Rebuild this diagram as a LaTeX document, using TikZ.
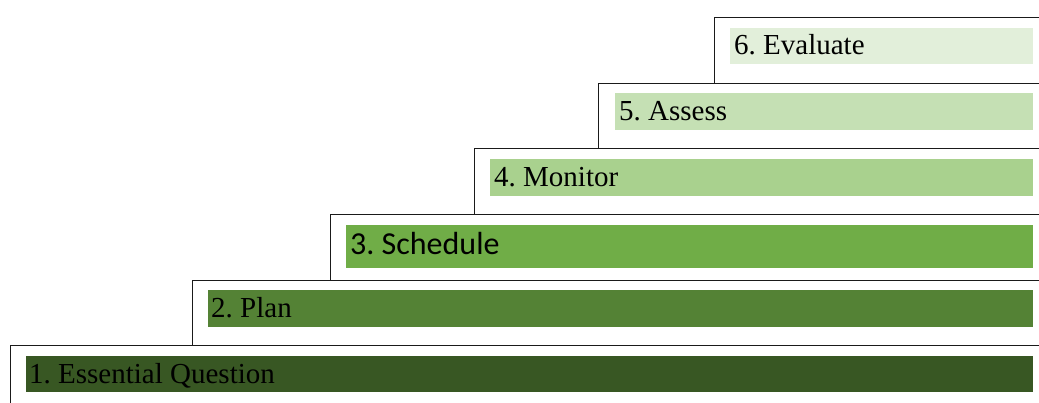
\documentclass[tikz,border=0pt]{standalone}
\usepackage{fontspec}
\setmainfont{Liberation Serif}
\newfontfamily\calibrifont{Carlito}
\definecolor{gA}{HTML}{385723}
\definecolor{gB}{HTML}{548235}
\definecolor{gC}{HTML}{70AD47}
\definecolor{gD}{HTML}{A9D18E}
\definecolor{gE}{HTML}{C5E0B4}
\definecolor{gF}{HTML}{E2EFDA}
\definecolor{edge}{HTML}{1A1A1A}
\frenchspacing
\begin{document}
\begin{tikzpicture}[x=1pt,y=-1pt,
  stair/.style={draw=edge, line width=1.3pt, fill=white, anchor=north west, inner sep=0pt, minimum width=1060pt-#1},
  bar/.style={anchor=north west, inner sep=0pt, draw=none},
  lbl/.style={anchor=base west, inner sep=0pt, text=black, font=\fontsize{29}{34}\selectfont}]
\useasboundingbox (0,0) rectangle (1039,403);
\clip (0,0) rectangle (1039,403);
% stairs
\node[stair=714pt, minimum height=66pt] (s6) at (714,17) {};
\node[stair=598pt, minimum height=65pt] (s5) at (598,83) {};
\node[stair=474pt, minimum height=66pt] (s4) at (474,148) {};
\node[stair=330pt, minimum height=66pt] (s3) at (330,214) {};
\node[stair=192pt, minimum height=65pt] (s2) at (192,280) {};
\node[stair=10pt, minimum height=75pt] (s1) at (10,345) {};
% bars
\node[bar, fill=gF, minimum width=303pt, minimum height=36pt] (b6) at (730,28) {};
\node[bar, fill=gE, minimum width=418pt, minimum height=37pt] (b5) at (615,93) {};
\node[bar, fill=gD, minimum width=543pt, minimum height=37pt] (b4) at (490,159) {};
\node[bar, fill=gC, minimum width=687pt, minimum height=43pt] (b3) at (346,225) {};
\node[bar, fill=gB, minimum width=825pt, minimum height=37pt] (b2) at (208,290) {};
\node[bar, fill=gA, minimum width=1007pt, minimum height=36pt] (b1) at (26,356) {};
% labels
\node[lbl] (t6) at (734,55) {6. Evaluate};
\node[lbl] (t5) at (619,121) {5. Assess};
\node[lbl] (t4) at (494,187) {4. Monitor};
\node[lbl, font=\calibrifont\fontsize{32}{38}\selectfont] (t3) at (350,255) {3. Schedule};
\node[lbl] (t2) at (211,318) {2. Plan};
\node[lbl] (t1) at (29,384) {1. Essential Question};
\end{tikzpicture}
\end{document}
